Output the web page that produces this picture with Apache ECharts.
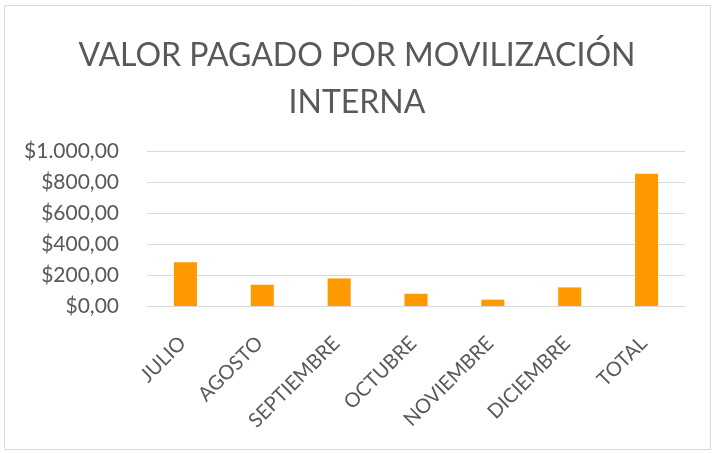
<!DOCTYPE html>
<html>
<head>
<meta charset="utf-8">
<script src="https://cdn.jsdelivr.net/npm/echarts@6/dist/echarts.min.js"></script>
<style>
  html, body { margin: 0; padding: 0; background: #fff; }
  #chart { width: 714px; height: 453px; }
</style>
</head>
<body>
<div id="chart"></div>
<script>
// datos
const categories = ['JULIO', 'AGOSTO', 'SEPTIEMBRE', 'OCTUBRE', 'NOVIEMBRE', 'DICIEMBRE', 'TOTAL'];
const valores = [283, 137, 178, 79, 41, 120, 854];
const yTicks = [0, 200, 400, 600, 800, 1000];

function formatoPeso(v) {
  const entero = Math.round(v).toString().replace(/\B(?=(\d{3})+(?!\d))/g, '.');
  return '$' + entero + ',00';
}

const myChart = echarts.init(document.getElementById('chart'));
const font = 'Lato, "Open Sans", sans-serif';

const option = {
  animation: false,
  title: {
    text: 'VALOR PAGADO POR MOVILIZACIÓN\nINTERNA',
    left: 'center',
    top: 27,
    textStyle: {
      fontFamily: font,
      fontSize: 32,
      fontWeight: 'normal',
      color: '#595959',
      lineHeight: 47
    }
  },
  grid: {
    left: 147,
    right: 29,
    top: 151,
    bottom: 147
  },
  xAxis: {
    type: 'category',
    data: categories,
    axisLine: { lineStyle: { color: '#d9d9d9', width: 1 } },
    axisTick: { show: false },
    axisLabel: {
      rotate: 45,
      interval: 0,
      fontFamily: font,
      fontSize: 20,
      color: '#595959',
      verticalAlign: 'top',
      padding: [0, 14, 0, 0],
      margin: 17
    }
  },
  yAxis: {
    type: 'value',
    min: yTicks[0],
    max: yTicks[yTicks.length - 1],
    interval: 200,
    axisLine: { show: false },
    axisTick: { show: false },
    axisLabel: {
      fontFamily: font,
      fontSize: 21,
      color: '#595959',
      margin: 28,
      formatter: formatoPeso
    },
    splitLine: { lineStyle: { color: '#d9d9d9', width: 1 } }
  },
  series: [
    {
      type: 'bar',
      data: valores,
      barWidth: '30%',
      itemStyle: { color: '#FF9900' }
    }
  ]
};

myChart.setOption(option);

// borde del area del grafico
myChart.setOption({
  graphic: [{
    type: 'rect',
    shape: { x: 4.5, y: 5.5, width: 706, height: 444 },
    style: { fill: 'none', stroke: '#d9d9d9', lineWidth: 1 },
    silent: true
  }]
});
</script>
</body>
</html>
